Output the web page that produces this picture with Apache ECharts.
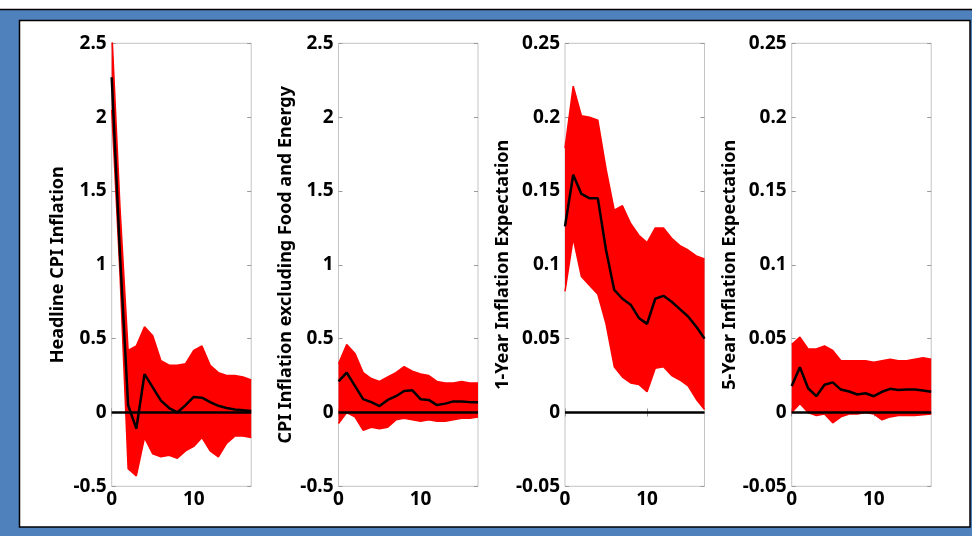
<!DOCTYPE html>
<html>
<head>
<meta charset="utf-8">
<script src="https://cdn.jsdelivr.net/npm/echarts@6/dist/echarts.min.js"></script>
<style>
html,body{margin:0;padding:0;background:#fff;}
#chart{width:972px;height:536px;}
</style>
</head>
<body>
<div id="chart"></div>
<script>
// ---- data ----
const horizons = ['0','1','2','3','4','5','6','7','8','9','10','11','12','13','14','15','16','17'];
const xTickLabels = ['0', '10'];

const titles = [
  'Headline CPI Inflation',
  'CPI Inflation excluding Food and Energy',
  '1-Year Inflation Expectation',
  '5-Year Inflation Expectation'
];

const yMin = [-0.5, -0.5, -0.05, -0.05];
const yMax = [2.5, 2.5, 0.25, 0.25];
const yStep = [0.5, 0.5, 0.05, 0.05];

// Panel 1: Headline CPI Inflation
const median1 = [2.27, 1.08, 0.05, -0.11, 0.26, 0.17, 0.08, 0.03, 0.0, 0.05, 0.105, 0.10, 0.07, 0.045, 0.03, 0.02, 0.015, 0.01];
const upper1  = [2.6, 1.4, 0.42, 0.45, 0.58, 0.52, 0.35, 0.32, 0.32, 0.33, 0.42, 0.45, 0.32, 0.27, 0.25, 0.25, 0.24, 0.22];
const lower1  = [2.05, 0.95, -0.38, -0.43, -0.17, -0.28, -0.30, -0.29, -0.31, -0.26, -0.23, -0.17, -0.26, -0.30, -0.21, -0.16, -0.16, -0.17];

// Panel 2: CPI excluding food and energy
const median2 = [0.21, 0.27, 0.18, 0.09, 0.07, 0.043, 0.085, 0.11, 0.145, 0.15, 0.09, 0.085, 0.05, 0.06, 0.075, 0.075, 0.07, 0.07];
const upper2  = [0.33, 0.46, 0.40, 0.27, 0.23, 0.21, 0.24, 0.27, 0.31, 0.28, 0.26, 0.25, 0.21, 0.20, 0.20, 0.21, 0.20, 0.20];
const lower2  = [-0.075, 0.0, -0.03, -0.12, -0.10, -0.11, -0.10, -0.05, -0.04, -0.05, -0.06, -0.05, -0.06, -0.06, -0.05, -0.04, -0.04, -0.03];

// Panel 3: 1-year inflation expectation
const median3 = [0.126, 0.161, 0.148, 0.145, 0.145, 0.11, 0.083, 0.077, 0.073, 0.064, 0.06, 0.077, 0.079, 0.075, 0.07, 0.065, 0.058, 0.05];
const upper3  = [0.179, 0.221, 0.201, 0.200, 0.198, 0.165, 0.137, 0.140, 0.128, 0.120, 0.115, 0.125, 0.125, 0.118, 0.113, 0.110, 0.106, 0.104];
const lower3  = [0.082, 0.118, 0.092, 0.086, 0.080, 0.060, 0.031, 0.024, 0.020, 0.019, 0.014, 0.030, 0.031, 0.025, 0.022, 0.018, 0.009, 0.002];

// Panel 4: 5-year inflation expectation
const median4 = [0.018, 0.0306, 0.0164, 0.011, 0.0188, 0.0204, 0.0155, 0.0142, 0.0122, 0.013, 0.011, 0.014, 0.016, 0.0152, 0.0155, 0.0155, 0.0149, 0.014];
const upper4  = [0.046, 0.051, 0.043, 0.043, 0.045, 0.042, 0.035, 0.035, 0.035, 0.035, 0.034, 0.035, 0.036, 0.035, 0.035, 0.036, 0.037, 0.036];
const lower4  = [0.0, 0.006, 0.0, -0.002, -0.001, -0.007, -0.003, -0.001, -0.001, 0.0, -0.001, -0.005, -0.003, -0.002, -0.002, -0.002, -0.0015, -0.001];

const medians = [median1, median2, median3, median4];
const uppers = [upper1, upper2, upper3, upper4];
const lowers = [lower1, lower2, lower3, lower4];

// ---- layout / style ----
const gridLefts = [111.7, 338.5, 565, 791.7];
const nameGaps = [45, 43.5, 48, 47];
const RED = '#ff0000';
const FONT = 'Noto Sans';
const BOX = '#c4c4c4';
const TICK = '#9a9a9a';
const showTick = (idx, val) => xTickLabels.indexOf(String(val)) >= 0;

const grids = [], xAxes = [], yAxes = [], series = [];
for (let i = 0; i < 4; i++) {
  grids.push({left: gridLefts[i], top: 43.3, width: 139.5, height: 443, show: true,
    borderColor: BOX, borderWidth: 1, backgroundColor: 'transparent', containLabel: false});
  xAxes.push({type: 'category', gridIndex: i, data: horizons, boundaryGap: false, position: 'bottom',
    axisLine: {show: false}, splitLine: {show: false},
    axisTick: {show: true, inside: true, length: 4, interval: showTick, lineStyle: {color: TICK}},
    axisLabel: {interval: showTick, color: '#000', fontFamily: FONT, fontWeight: 'bold', fontSize: 19, margin: 4}});
  xAxes.push({type: 'category', gridIndex: i, data: horizons, boundaryGap: false, position: 'top',
    axisLine: {show: false}, splitLine: {show: false},
    axisTick: {show: true, inside: true, length: 4, interval: showTick, lineStyle: {color: TICK}},
    axisLabel: {show: false}});
  yAxes.push({type: 'value', gridIndex: i, min: yMin[i], max: yMax[i], interval: yStep[i], position: 'left',
    name: titles[i], nameLocation: 'middle', nameGap: nameGaps[i],
    nameTextStyle: {color: '#000', fontFamily: FONT, fontWeight: 'bold', fontSize: 18},
    axisLine: {show: false}, splitLine: {show: false},
    axisTick: {show: true, inside: true, length: 4, lineStyle: {color: TICK}},
    axisLabel: {color: '#000', fontFamily: FONT, fontWeight: 'bold', fontSize: 19, margin: 5}});
  yAxes.push({type: 'value', gridIndex: i, min: yMin[i], max: yMax[i], interval: yStep[i], position: 'right',
    axisLine: {show: false}, splitLine: {show: false},
    axisTick: {show: true, inside: true, length: 4, lineStyle: {color: TICK}},
    axisLabel: {show: false}});

  const lo = lowers[i], up = uppers[i], md = medians[i];
  const common = {type: 'line', xAxisIndex: i * 2, yAxisIndex: i * 2, symbol: 'none', silent: true, animation: false};
  series.push(Object.assign({}, common, {
    stack: 'band' + i, stackStrategy: 'all',
    data: lo.slice(),
    lineStyle: {color: RED, width: 1.5}
  }));
  series.push(Object.assign({}, common, {
    stack: 'band' + i, stackStrategy: 'all',
    data: up.map((u, k) => u - lo[k]),
    lineStyle: {color: RED, width: 1.5},
    areaStyle: {color: RED, opacity: 1}
  }));
  series.push(Object.assign({}, common, {
    data: horizons.map(() => 0),
    lineStyle: {color: '#000', width: 2.5}, z: 3
  }));
  series.push(Object.assign({}, common, {
    data: md.slice(),
    lineStyle: {color: '#000', width: 2.5}, z: 4
  }));
}

const chart = echarts.init(document.getElementById('chart'), null, {renderer: 'canvas'});
chart.setOption({
  backgroundColor: '#ffffff',
  animation: false,
  graphic: [
    {type: 'rect', z: -10, silent: true, shape: {x: -2, y: 9.5, width: 976, height: 530},
      style: {fill: '#4f81bd', stroke: '#000', lineWidth: 1.5}},
    {type: 'rect', z: -9, silent: true, shape: {x: 19.5, y: 20.5, width: 950.5, height: 506.5},
      style: {fill: '#ffffff', stroke: '#000', lineWidth: 1.5}}
  ],
  grid: grids,
  xAxis: xAxes,
  yAxis: yAxes,
  series: series
});
</script>
</body>
</html>
